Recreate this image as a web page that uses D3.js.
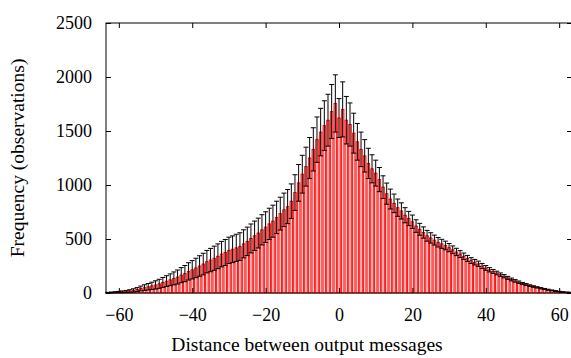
<!DOCTYPE html>
<html>
<head>
<meta charset="utf-8">
<script src="https://cdn.jsdelivr.net/npm/d3@7"></script>
<style>
  body { margin: 0; background: #fff; }
</style>
</head>
<body>
<div id="chart-container"></div>
<script>
// Distance bins (-63 .. 63)
const distances = d3.range(-63, 64);

// Frequency per bin
const frequency = [
    3, 5, 7, 9, 11, 14, 18, 24, 32, 42,
    50, 58, 66, 75, 85, 98, 110, 122, 135, 148,
    165, 180, 200, 215, 232, 250, 268, 290, 305, 322,
    340, 360, 375, 395, 405, 418, 430, 455, 478, 505,
    530, 555, 585, 610, 640, 665, 700, 735, 770, 800,
    850, 930, 1020, 1100, 1170, 1250, 1330, 1420, 1490, 1550,
    1600, 1680, 1755, 1620, 1700, 1600, 1560, 1480, 1400, 1330,
    1270, 1200, 1150, 1110, 1050, 980, 920, 870, 830, 790,
    760, 720, 690, 660, 620, 590, 560, 530, 510, 490,
    470, 455, 440, 420, 400, 380, 360, 340, 320, 300,
    285, 270, 250, 232, 215, 200, 185, 170, 155, 140,
    125, 112, 100, 88, 78, 68, 60, 52, 44, 37,
    30, 24, 18, 13, 9, 6, 4
];

// Error (half length of error bar) per bin
const errors = [
    3, 4, 5, 6, 8, 10, 12, 15, 18, 22,
    26, 30, 34, 38, 42, 46, 50, 55, 60, 65,
    70, 75, 80, 85, 90, 95, 100, 104, 108, 112,
    115, 118, 120, 122, 124, 126, 128, 130, 132, 134,
    136, 138, 140, 142, 145, 148, 150, 152, 155, 158,
    160, 165, 170, 175, 180, 190, 200, 210, 220, 230,
    240, 250, 265, 180, 255, 220, 200, 185, 170, 160,
    150, 140, 130, 120, 112, 105, 98, 92, 86, 80,
    75, 70, 66, 62, 58, 55, 52, 50, 48, 46,
    44, 42, 40, 38, 36, 34, 32, 30, 28, 27,
    26, 25, 24, 22, 20, 18, 17, 16, 15, 14,
    13, 12, 11, 10, 9, 8, 7, 6, 6, 5,
    5, 4, 4, 3, 3, 3, 3
];

const xTicks = [-60, -40, -20, 0, 20, 40, 60];
const yTicks = [0, 500, 1000, 1500, 2000, 2500];

const data = distances.map((d, i) => ({ d: d, v: frequency[i], e: errors[i] }));

const FONT = "'Liberation Serif', 'Times New Roman', Times, serif";

const W = 571, H = 358;
const margin = { top: 23, right: -1, bottom: 65, left: 106 };
const width = W - margin.left - margin.right;
const height = H - margin.top - margin.bottom;

const svg = d3.select("#chart-container")
    .append("svg")
    .attr("width", W)
    .attr("height", H)
    .style("font-family", FONT);

const g = svg.append("g")
    .attr("transform", "translate(" + margin.left + "," + margin.top + ")");

const x = d3.scaleLinear().domain([-63.5, 63.5]).range([0, width]);
const y = d3.scaleLinear().domain([0, 2500]).range([height, 0]);
const bw = x(1) - x(0);

// Bars
g.append("g").selectAll("rect")
    .data(data)
    .enter().append("rect")
    .attr("x", d => x(d.d) - bw * 0.35)
    .attr("width", bw * 0.7)
    .attr("y", d => y(d.v))
    .attr("height", d => y(0) - y(d.v))
    .attr("fill", "rgba(255,0,0,0.2)")
    .attr("stroke", "#ff0000")
    .attr("stroke-width", 0.9);

// Error bars
const err = g.append("g").attr("stroke", "#000").attr("stroke-width", 1);
err.selectAll("line.v")
    .data(data)
    .enter().append("line")
    .attr("class", "v")
    .attr("x1", d => x(d.d)).attr("x2", d => x(d.d))
    .attr("y1", d => y(d.v + d.e)).attr("y2", d => y(Math.max(0, d.v - d.e)));
err.selectAll("line.top")
    .data(data)
    .enter().append("line")
    .attr("class", "top")
    .attr("x1", d => x(d.d) - 2.5).attr("x2", d => x(d.d) + 2.5)
    .attr("y1", d => y(d.v + d.e)).attr("y2", d => y(d.v + d.e));
err.selectAll("line.bot")
    .data(data)
    .enter().append("line")
    .attr("class", "bot")
    .attr("x1", d => x(d.d) - 2.5).attr("x2", d => x(d.d) + 2.5)
    .attr("y1", d => y(Math.max(0, d.v - d.e))).attr("y2", d => y(Math.max(0, d.v - d.e)));

// Axes (gnuplot style: inward ticks, mirrored)
const tickLen = 5;
const fmt = d3.format("d");
g.append("g")
    .attr("transform", "translate(0," + height + ")")
    .call(d3.axisBottom(x).tickValues(xTicks).tickFormat(fmt).tickSize(-tickLen).tickPadding(tickLen + 10))
    .call(a => a.select(".domain").remove());
g.append("g")
    .call(d3.axisTop(x).tickValues(xTicks).tickSize(-tickLen).tickFormat(""))
    .call(a => a.select(".domain").remove());
g.append("g")
    .call(d3.axisLeft(y).tickValues(yTicks).tickFormat(fmt).tickSize(-tickLen).tickPadding(tickLen + 9))
    .call(a => a.select(".domain").remove());
g.append("g")
    .attr("transform", "translate(" + width + ",0)")
    .call(d3.axisRight(y).tickValues(yTicks).tickSize(-tickLen).tickFormat(""))
    .call(a => a.select(".domain").remove());

g.selectAll("g").attr("font-family", FONT);
g.selectAll(".tick text")
    .style("font-family", FONT)
    .style("font-size", "18px");

// Frame
g.append("rect")
    .attr("x", 0).attr("y", 0)
    .attr("width", width).attr("height", height)
    .attr("fill", "none")
    .attr("stroke", "#000");

// Axis titles
svg.append("text")
    .attr("x", 307)
    .attr("y", 351)
    .attr("text-anchor", "middle")
    .style("font-family", FONT)
    .style("font-size", "19.5px")
    .text("Distance between output messages");

svg.append("text")
    .attr("transform", "translate(24,158) rotate(-90)")
    .attr("text-anchor", "middle")
    .style("font-family", FONT)
    .style("font-size", "19.5px")
    .text("Frequency (observations)");
</script>
</body>
</html>
